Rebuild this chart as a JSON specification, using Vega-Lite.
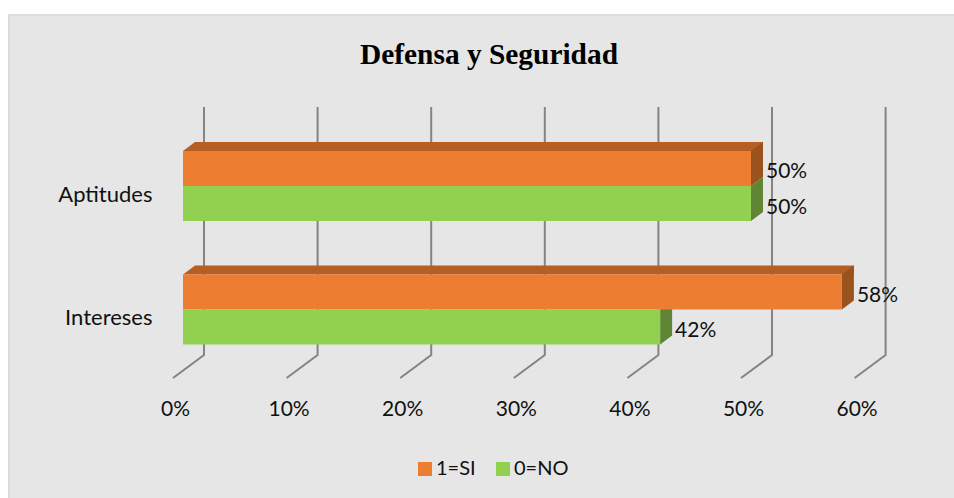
{
"$schema":"https://vega.github.io/schema/vega-lite/v6.json",
"width":950,"height":490,
"autosize":{"type":"none"},
"padding":{"left":9,"top":15,"right":0,"bottom":0},
"background":"#ffffff",
"config":{"view":{"fill":"#e6e6e6","stroke":"#dcdcdc","strokeWidth":2}},
"title":{"text":"Defensa y Seguridad","font":"Liberation Serif","fontWeight":"bold","fontSize":29.4,"color":"#000000","anchor":"middle","dx":5,"dy":69,"baseline":"middle","offset":0},
"datasets":{
"bars":[
{"area":"Aptitudes","serie":"1=SI","valor":0.50},
{"area":"Aptitudes","serie":"0=NO","valor":0.50},
{"area":"Intereses","serie":"1=SI","valor":0.58},
{"area":"Intereses","serie":"0=NO","valor":0.42}
],
"ticks":[{"tick":0},{"tick":0.1},{"tick":0.2},{"tick":0.3},{"tick":0.4},{"tick":0.5},{"tick":0.6}]
},
"data":{"name":"bars"},
"layer":[
{"data":{"name":"ticks"},
 "mark":{"type":"point","shape":"M21,-153 L21,95 L-10,118","size":4,"filled":false,"stroke":"#868383","strokeWidth":2,"opacity":1},
 "encoding":{"x":{"field":"tick","type":"quantitative","title":null,
   "scale":{"domain":[0,0.6],"range":[174,855.6],"nice":false,"zero":false},
   "axis":{"values":[0,0.1,0.2,0.3,0.4,0.5,0.6],"format":".0%","domain":false,"ticks":false,"grid":false,"offset":-105,"labelPadding":9,"labelBaseline":"middle","labelOffset":-8,"labelFont":"Lato","labelFontSize":21,"labelColor":"#111111","labelFlush":false,"labelOverlap":false}}}},
{"transform":[{"filter":"datum.serie === '1=SI'"}],
 "mark":{"type":"bar","height":9,"xOffset":12,"x2Offset":12,"yOffset":-39.5,"fill":"#b65f24"},
 "encoding":{"x":{"field":"valor","type":"quantitative"},"x2":{"datum":0},
  "y":{"field":"area","type":"nominal","title":null,
   "scale":{"domain":["Aptitudes","Intereses"],"range":[109.25,356.25],"paddingInner":0.433,"paddingOuter":0.2165},
   "axis":{"domain":false,"ticks":false,"grid":false,"offset":-143,"labelPadding":0,"labelOffset":8.5,"labelFont":"Lato","labelFontSize":22,"labelColor":"#111111"}}}},
{"transform":[{"filter":"datum.serie === '1=SI'"}],
 "mark":{"type":"point","shape":"M0,-35 L12,-44 L12,-35 Z","size":4,"filled":true,"opacity":1,"fill":"#b65f24"},
 "encoding":{"x":{"datum":0,"type":"quantitative"},"y":{"field":"area","type":"nominal"}}},
{"mark":{"type":"point","shape":"M0,-17.5 L12,-26.5 L12,8.5 L0,17.5 Z","size":4,"filled":true,"opacity":1},
 "encoding":{"x":{"field":"valor","type":"quantitative"},"y":{"field":"area","type":"nominal"},
  "yOffset":{"field":"serie","type":"nominal","scale":{"domain":["1=SI","0=NO"]}},
  "color":{"field":"serie","type":"nominal","legend":null,"scale":{"domain":["0=NO","1=SI"],"range":["#5f8535","#9c521c"]}}}},
{"mark":{"type":"bar"},
 "encoding":{"x":{"field":"valor","type":"quantitative"},"x2":{"datum":0},"y":{"field":"area","type":"nominal"},
  "yOffset":{"field":"serie","type":"nominal","scale":{"domain":["1=SI","0=NO"]}},
  "fill":{"field":"serie","type":"nominal","title":null,"scale":{"domain":["1=SI","0=NO"],"range":["#ed7d31","#92d050"]},
   "legend":{"orient":"none","legendX":406,"legendY":444,"direction":"horizontal","columns":2,"symbolType":"square","symbolSize":196,"symbolStrokeWidth":0,"labelFont":"Lato","labelFontSize":20,"labelColor":"#111111","labelOffset":1,"columnPadding":17,"padding":0}}}},
{"mark":{"type":"text","align":"left","baseline":"middle","dx":15,"dy":4,"font":"Lato","fontSize":21,"fill":"#111111"},
 "encoding":{"x":{"field":"valor","type":"quantitative"},"y":{"field":"area","type":"nominal"},
  "yOffset":{"field":"serie","type":"nominal","scale":{"domain":["1=SI","0=NO"]}},
  "text":{"field":"valor","format":".0%"}}}
]
}
